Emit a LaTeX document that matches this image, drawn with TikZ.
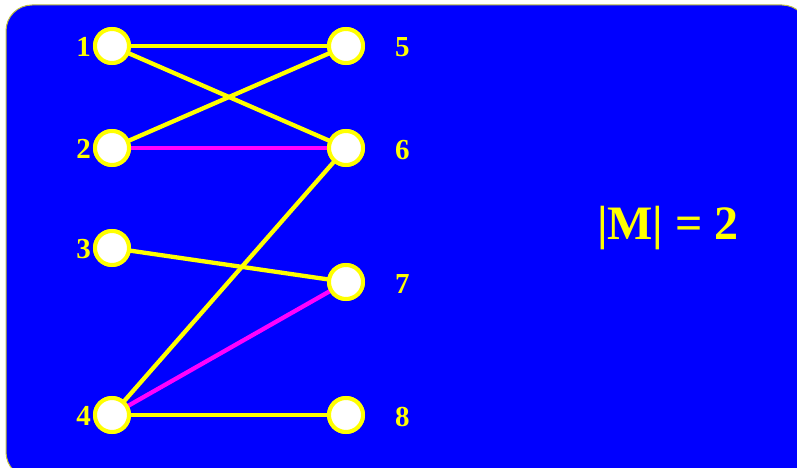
\documentclass[tikz,border=0pt]{standalone}
\usepackage{fontspec}
\setmainfont{Liberation Serif}
\definecolor{yel}{RGB}{255,255,0}
\definecolor{mag}{RGB}{255,0,255}
\definecolor{blu}{RGB}{0,0,255}
\begin{document}
\begin{tikzpicture}[x=1pt,y=-1pt,
  vert/.style={circle,draw=yel,line width=4pt,fill=white,minimum size=34pt,inner sep=0pt},
  lab/.style={text=yel,font=\fontsize{29}{29}\selectfont\bfseries,inner sep=0pt},
  plain/.style={draw=yel,line width=4.3pt},
  match/.style={draw=mag,line width=4.3pt}]
\useasboundingbox (0,0) rectangle (797,468);
\begin{scope}
\clip (0,0) rectangle (797,468);
\path[fill=blu,draw=yel!50!gray,line width=1pt,rounded corners=26pt] (6,5) rectangle (808,478);
\end{scope}
\node[vert] (n1) at (112,46) {};
\node[vert] (n2) at (112,148) {};
\node[vert] (n3) at (112,248) {};
\node[vert] (n4) at (112,415) {};
\node[vert] (n5) at (346,46) {};
\node[vert] (n6) at (346,148) {};
\node[vert] (n7) at (346,282) {};
\node[vert] (n8) at (346,415) {};
\path[plain] (n1.center) -- (n5.center);
\path[plain] (n1.center) -- (n6.center);
\path[plain] (n2.center) -- (n5.center);
\path[match] (n2.center) -- (n6.center);
\path[plain] (n3.center) -- (n7.center);
\path[plain] (n4.center) -- (n6.center);
\path[match] (n4.center) -- (n7.center);
\path[plain] (n4.center) -- (n8.center);
\foreach \n in {1,...,8}{\node[vert] at (n\n) {};}
\node[lab,anchor=east] (l1) at (91,47) {1};
\node[lab,anchor=east] (l2) at (91,149) {2};
\node[lab,anchor=east] (l3) at (91,249) {3};
\node[lab,anchor=east] (l4) at (91,416) {4};
\node[lab,anchor=west] (l5) at (395,47) {5};
\node[lab,anchor=west] (l6) at (395,150) {6};
\node[lab,anchor=west] (l7) at (395,284) {7};
\node[lab,anchor=west] (l8) at (395,417) {8};
\node[text=yel,font=\fontsize{48}{48}\selectfont\bfseries] (m) at (668,228) {|M| = 2};
\end{tikzpicture}
\end{document}
